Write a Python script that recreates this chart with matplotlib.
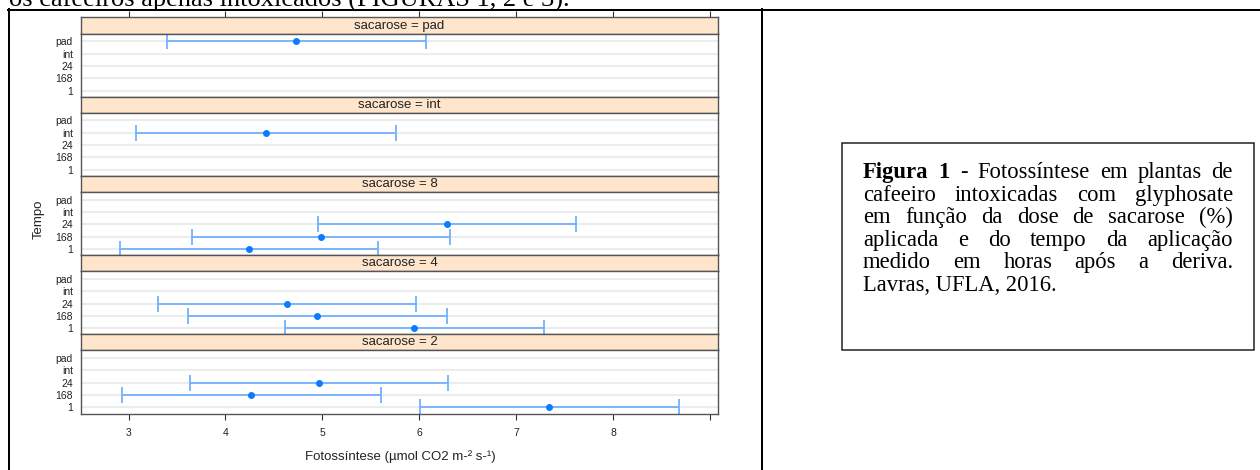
import matplotlib
matplotlib.use('Agg')
import matplotlib.pyplot as plt
from matplotlib.lines import Line2D
from matplotlib.patches import Rectangle

# ---------------- data ----------------
tempo_levels = ['1', '168', '24', 'int', 'pad']          # bottom -> top inside each panel
panels = ['pad', 'int', '8', '4', '2']                    # top -> bottom
obs_sacarose = ['pad', 'int', '8', '8', '8', '4', '4', '4', '2', '2', '2']
obs_tempo = ['pad', 'int', '24', '168', '1', '24', '168', '1', '24', '168', '1']
mean_vals = [4.73, 4.42, 6.28, 4.985, 4.24, 4.63, 4.94, 5.945, 4.96, 4.26, 7.34]
lower_vals = [3.40, 3.08, 4.95, 3.655, 2.91, 3.30, 3.61, 4.615, 3.63, 2.93, 6.01]
upper_vals = [6.07, 5.755, 7.62, 6.32, 5.575, 5.97, 6.28, 7.285, 6.30, 5.60, 8.68]
x_ticks = [3, 4, 5, 6, 7, 8, 9]
x_ticklabels = ['3', '4', '5', '6', '7', '8', '']

top_text = "os cafeeiros apenas intoxicados (FIGURAS 1, 2 e 3)."
caption_lines = [
    [("Figura", 'bold'), ("1", 'bold'), ("-", 'normal'), ("Fotossíntese", 'normal'),
     ("em", 'normal'), ("plantas", 'normal'), ("de", 'normal')],
    [(w, 'normal') for w in "cafeeiro intoxicadas com glyphosate".split()],
    [(w, 'normal') for w in "em função da dose de sacarose (%)".split()],
    [(w, 'normal') for w in "aplicada e do tempo da aplicação".split()],
    [(w, 'normal') for w in "medido em horas após a deriva.".split()],
]
caption_last = "Lavras, UFLA, 2016."

# ---------------- figure ----------------
W, H = 1260, 470
fig = plt.figure(figsize=(W / 100, H / 100), dpi=100)
fig.patch.set_facecolor('white')


def fx(px):
    return px / W


def fy(py):
    return 1 - py / H


SANS = 'Liberation Sans'
SERIF = 'Liberation Serif'
border_col = '#555555'
strip_col = '#ffe5cc'
line_col = '#72b1fd'
dot_col = '#0a7cff'

panel_left, panel_right = 81, 718
strip_top0 = 17.5
pitch = 79.2
strip_h = 16
body_h = 63.2
xlim = (2.51, 9.08)
ylim = (0.5, 5.63)

for i, pan in enumerate(panels):
    st = strip_top0 + i * pitch
    ax_s = fig.add_axes([fx(panel_left), fy(st + strip_h), fx(panel_right - panel_left), strip_h / H])
    ax_b = fig.add_axes([fx(panel_left), fy(st + strip_h + body_h), fx(panel_right - panel_left), body_h / H])

    # strip
    ax_s.set_facecolor(strip_col)
    ax_s.set_xlim(*xlim)
    ax_s.set_ylim(0, 1)
    ax_s.set_yticks([])
    for sp in ax_s.spines.values():
        sp.set_color(border_col)
        sp.set_linewidth(1.0)
    ax_s.text(0.5, 0.5, f"sacarose = {pan}", transform=ax_s.transAxes, ha='center', va='center',
              fontsize=9.5, family=SANS, color='#222222')
    if i == 0:
        ax_s.xaxis.set_ticks_position('top')
        ax_s.set_xticks(x_ticks)
        ax_s.tick_params(axis='x', direction='out', length=4.3, width=0.8, color='#333333',
                         labeltop=False, labelbottom=False)
    else:
        ax_s.set_xticks([])

    # body
    ax_b.set_xlim(*xlim)
    ax_b.set_ylim(*ylim)
    for sp in ax_b.spines.values():
        sp.set_color(border_col)
        sp.set_linewidth(1.0)
    for k in range(len(tempo_levels)):
        ax_b.axhline(k + 1, color='#ececec', lw=1.5, zorder=0)
    ax_b.set_yticks(range(1, len(tempo_levels) + 1))
    ax_b.set_yticklabels(tempo_levels, fontsize=7.5, family=SANS, color='#222222')
    ax_b.tick_params(axis='y', length=0, pad=5.8)

    idx = [j for j, s in enumerate(obs_sacarose) if s == pan]
    ys = [tempo_levels.index(obs_tempo[j]) + 1 for j in idx]
    ms = [mean_vals[j] for j in idx]
    lo = [mean_vals[j] - lower_vals[j] for j in idx]
    hi = [upper_vals[j] - mean_vals[j] for j in idx]
    ax_b.errorbar(ms, ys, xerr=[lo, hi], fmt='none', ecolor=line_col, elinewidth=1.3,
                  capsize=6, capthick=1.3, zorder=2)
    ax_b.plot(ms, ys, 'o', color=dot_col, markersize=4, zorder=3)

    if i == len(panels) - 1:
        ax_b.set_xticks(x_ticks)
        ax_b.set_xticklabels(x_ticklabels, fontsize=7.5, family=SANS, color='#222222')
        ax_b.tick_params(axis='x', direction='out', length=4.3, width=0.8, color='#333333', pad=6.5)
    else:
        ax_b.set_xticks([])

fig.text(fx(39), fy(219), 'Tempo', rotation=90, ha='center', va='center', fontsize=9.5,
         family=SANS, color='#222222')
fig.text(fx(400), fy(457), 'Fotossíntese (µmol CO2 m-² s-¹)', ha='center', va='center',
         fontsize=9.5, family=SANS, color='#222222')

# ---------------- document / table decoration ----------------
fig.text(fx(9), fy(7), top_text, ha='left', va='baseline', fontsize=19, family=SERIF, color='black')

lw_tab = 1.44
fig.add_artist(Line2D([fx(8), fx(1260)], [fy(9.5), fy(9.5)], transform=fig.transFigure,
                      color='black', lw=lw_tab))
fig.add_artist(Line2D([fx(9), fx(9)], [fy(9), fy(470)], transform=fig.transFigure,
                      color='black', lw=lw_tab))
fig.add_artist(Line2D([fx(762), fx(762)], [fy(9), fy(470)], transform=fig.transFigure,
                      color='black', lw=lw_tab))

box_l, box_t, box_r, box_b = 842, 143, 1254, 350
fig.add_artist(Rectangle((fx(box_l), fy(box_b)), fx(box_r - box_l), (box_b - box_t) / H,
                         transform=fig.transFigure, fill=False, edgecolor='#222222', lw=1.1))

# justified caption
cap_fs = 16.3
txt_left, txt_right = 863, 1233
base0, line_pitch = 178, 22.6
fig.canvas.draw()
renderer = fig.canvas.get_renderer()
for li, words in enumerate(caption_lines):
    y = fy(base0 + li * line_pitch)
    objs = []
    for w, wt in words:
        t = fig.text(0, y, w, ha='left', va='baseline', fontsize=cap_fs, family=SERIF,
                     fontweight=wt, color='black')
        objs.append(t)
    widths = [t.get_window_extent(renderer=renderer).width for t in objs]
    gap = ((txt_right - txt_left) - sum(widths)) / (len(objs) - 1)
    x = txt_left
    for t, wdt in zip(objs, widths):
        t.set_x(fx(x))
        x += wdt + gap
fig.text(fx(txt_left), fy(base0 + 5 * line_pitch), caption_last, ha='left', va='baseline',
         fontsize=cap_fs, family=SERIF, color='black')

fig.savefig('out.png', dpi=100, facecolor='white')
